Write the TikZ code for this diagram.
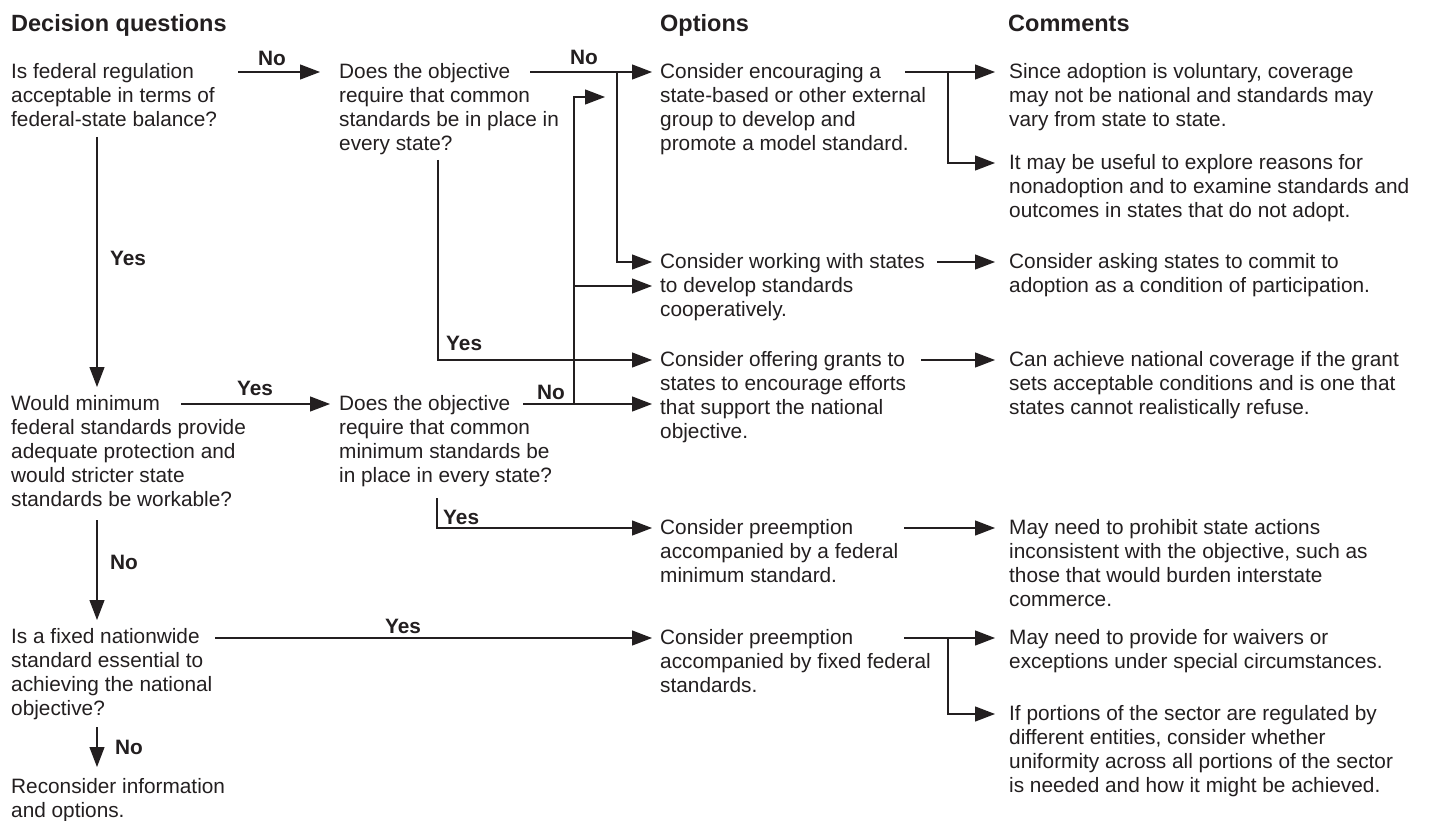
\documentclass[tikz,border=0pt]{standalone}
\usepackage{fontspec}
\setmainfont{Liberation Sans}
\usetikzlibrary{arrows.meta,calc}
\definecolor{ink}{RGB}{35,31,32}
\begin{document}
\begin{tikzpicture}[x=1pt,y=-1pt,
  txt/.style={anchor=north west,inner sep=0pt,align=left,text=ink,font=\fontsize{20.8}{24}\selectfont,execute at begin node={\rule{0pt}{16pt}}},
  head/.style={anchor=base west,inner sep=0pt,text=ink,font=\fontsize{23.5}{28}\selectfont\bfseries},
  lab/.style={inner sep=0pt,text=ink,font=\fontsize{20.8}{24}\selectfont\bfseries},
  conn/.style={draw=ink,line width=1.2pt},
  arr/.style={conn,-{Triangle[length=20pt,width=15pt]},shorten >=8pt},
  carr/.style={arr,shorten >=14pt},
]
\useasboundingbox[fill=white] (0,0) rectangle (1434,821);

% headings
\node[head] (h1) at (11,32) {Decision questions};
\node[head] (h2) at (660,32) {Options};
\node[head] (h3) at (1008,32) {Comments};

% decision questions (positions: top of first line = baseline - 16)
\node[txt] (q1) at (11,63) {Is federal regulation\\acceptable in terms of\\federal-state balance?};
\node[txt] (q2) at (339,63) {Does the objective\\require that common\\standards be in place in\\every state?};
\node[txt] (q3) at (11,395) {Would minimum\\federal standards provide\\adequate protection and\\would stricter state\\standards be workable?};
\node[txt] (q4) at (339,395) {Does the objective\\require that common\\minimum standards be\\in place in every state?};
\node[txt] (q5) at (11,628) {Is a fixed nationwide\\standard essential to\\achieving the national\\objective?};
\node[txt] (q6) at (11,778) {Reconsider information\\and options.};

% options
\node[txt] (o1) at (660,63) {Consider encouraging a\\state-based or other external\\group to develop and\\promote a model standard.};
\node[txt] (o2) at (660,253) {Consider working with states\\to develop standards\\cooperatively.};
\node[txt] (o3) at (660,351) {Consider offering grants to\\states to encourage efforts\\that support the national\\objective.};
\node[txt] (o4) at (660,519) {Consider preemption\\accompanied by a federal\\minimum standard.};
\node[txt] (o5) at (660,629) {Consider preemption\\accompanied by fixed federal\\standards.};

% comments
\node[txt] (c1) at (1009,63) {Since adoption is voluntary, coverage\\may not be national and standards may\\vary from state to state.};
\node[txt] (c2) at (1009,154) {It may be useful to explore reasons for\\nonadoption and to examine standards and\\outcomes in states that do not adopt.};
\node[txt] (c3) at (1009,253) {Consider asking states to commit to\\adoption as a condition of participation.};
\node[txt] (c4) at (1009,351) {Can achieve national coverage if the grant\\sets acceptable conditions and is one that\\states cannot realistically refuse.};
\node[txt] (c5) at (1009,519) {May need to prohibit state actions\\inconsistent with the objective, such as\\those that would burden interstate\\commerce.};
\node[txt] (c6) at (1009,629) {May need to provide for waivers or\\exceptions under special circumstances.};
\node[txt] (c7) at (1009,705) {If portions of the sector are regulated by\\different entities, consider whether\\uniformity across all portions of the sector\\is needed and how it might be achieved.};

% connector start points
\coordinate (q1n) at (238,72);
\coordinate (q1y) at (97,137);
\coordinate (q2n) at (530,72);
\coordinate (j1) at (617,72);
\coordinate (q2y) at (438,160);
\coordinate (q3y) at (181,404);
\coordinate (q3n) at (97,520);
\coordinate (q4n) at (523,404);
\coordinate (j2) at (574,404);
\coordinate (j3) at (574,286);
\coordinate (q4y) at (437,498);
\coordinate (q5y) at (215,638);
\coordinate (q5n) at (97,727);
\coordinate (o1r) at (905,72);
\coordinate (k1) at (948,72);
\coordinate (o2r) at (937,262);
\coordinate (o3r) at (921,360);
\coordinate (o4r) at (904,528);
\coordinate (o5r) at (904,638);
\coordinate (k2) at (948,638);

% decision connectors
\draw[arr,shorten >=19pt] (q1n) -- ($(q2.north west)+(0,9)$);
\node[lab,anchor=base] (l1) at (272,66) {No};
\draw[arr,shorten >=8pt] (q1y) -- (q1y |- q3.north);
\node[lab,anchor=base west] (l2) at (110,265) {Yes};

\draw[arr] (q2n) -- ($(o1.north west)+(0,9)$);
\node[lab,anchor=base] (l3) at (584,65) {No};
\draw[arr] (j1) |- ($(o2.north west)+(0,9)$);
\draw[arr] (q2y) |- ($(o3.north west)+(0,9)$);
\node[lab,anchor=base west] (l4) at (446,350) {Yes};

\draw[arr,shorten >=9pt] (q3y) -- ($(q4.north west)+(0,9)$);
\node[lab,anchor=base] (l5) at (255,395) {Yes};
\draw[arr,shorten >=8pt] (q3n) -- (q3n |- q5.north);
\node[lab,anchor=base west] (l6) at (110,569) {No};

\draw[arr] (q4n) -- ($(o3.north west)+(0,53)$);
\node[lab,anchor=base] (l7) at (551,399) {No};
\draw[arr,shorten >=12pt] (j2) |- ($(j1)+(0,25)$);
\draw[arr] (j3) -- ($(o2.north west)+(0,33)$);
\draw[arr] (q4y) |- ($(o4.north west)+(0,9)$);
\node[lab,anchor=base west] (l8) at (443,524) {Yes};

\draw[arr] (q5y) -- ($(o5.north west)+(0,9)$);
\node[lab,anchor=base] (l9) at (403,633) {Yes};
\draw[arr,shorten >=11pt] (q5n) -- (q5n |- q6.north);
\node[lab,anchor=base west] (l10) at (115,754) {No};

% option to comment connectors
\draw[carr] (o1r) -- ($(c1.north west)+(0,9)$);
\draw[carr] (k1) |- ($(c2.north west)+(0,9)$);
\draw[carr] (o2r) -- ($(c3.north west)+(0,9)$);
\draw[carr] (o3r) -- ($(c4.north west)+(0,9)$);
\draw[carr] (o4r) -- ($(c5.north west)+(0,9)$);
\draw[carr] (o5r) -- ($(c6.north west)+(0,9)$);
\draw[carr] (k2) |- ($(c7.north west)+(0,9)$);
\end{tikzpicture}
\end{document}
